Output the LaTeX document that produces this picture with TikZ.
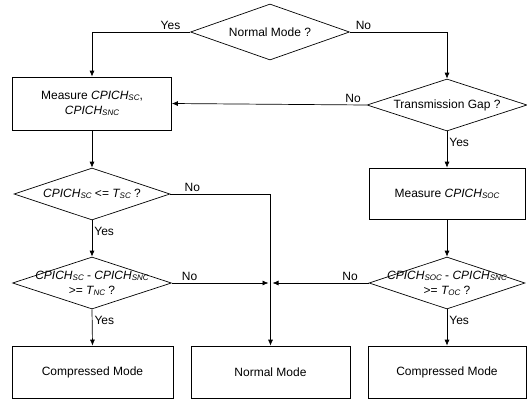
\documentclass[tikz,border=0pt]{standalone}
\usepackage{fontspec}
\setmainfont{Liberation Sans}
\usetikzlibrary{shapes.geometric,arrows.meta}
\newcommand{\lowsub}[1]{\raisebox{-0.8pt}{\fontsize{8}{9}\selectfont #1}}
\newcommand{\cpich}[1]{\textit{CPICH\lowsub{#1}}}

\begin{document}
\begin{tikzpicture}[x=1pt, y=-1pt]
        \tikzstyle{every node} = [font=\fontsize{12}{15}\selectfont]
        \tikzstyle{stepbox} = [draw, line width=0.7pt, rectangle, minimum height=52pt, align=center, inner sep=0pt]
        \tikzstyle{decision} = [draw, line width=0.7pt, diamond, aspect=3, inner sep=0pt, inner xsep=-35pt, align=center]
        \tikzstyle{flow} = [line width=0.7pt, -{Latex[length=6pt, width=5pt]}]
        \tikzstyle{lab} = [inner sep=2pt]

        \useasboundingbox (0,0) rectangle (527,399);

        \node[decision, minimum width=159pt, minimum height=56pt] (normal) at (270,32) {Normal Mode ?};
        \node[stepbox, minimum width=159pt, minimum height=53pt] (meas1) at (92,103.5) {Measure \cpich{SC},\\\cpich{SNC}};
        \node[decision, minimum width=160pt, minimum height=52pt] (gap) at (447,105) {Transmission Gap ?};
        \node[stepbox, minimum width=156pt, minimum height=51pt] (meas2) at (447,193.5) {Measure \cpich{SOC}};
        \node[decision, minimum width=156pt, minimum height=52pt] (sctest) at (92,194) {\cpich{SC} <= \textit{T\lowsub{SC}} ?};
        \node[decision, minimum width=159pt, minimum height=52pt] (nctest) at (92,283) {\cpich{SC} - \cpich{SNC}\\>= \textit{T\lowsub{NC}} ?};
        \node[decision, minimum width=156pt, minimum height=52pt] (octest) at (447,283) {\cpich{SOC} - \cpich{SNC}\\>= \textit{T\lowsub{OC}} ?};
        \node[stepbox, minimum width=161pt] (comp1) at (92.5,372) {Compressed Mode};
        \node[stepbox, minimum width=159pt] (normal2) at (270.5,372) {Normal Mode};
        \node[stepbox, minimum width=158pt] (comp2) at (447,372) {Compressed Mode};
        \coordinate (join) at (normal2.north |- nctest.east);

        \draw[flow] (normal.west) -| node[lab, above, pos=.1]{Yes} (meas1.north);
        \draw[flow] (normal.east) -| node[lab, above, pos=.07]{No} (gap.north);
        \draw[flow] (gap.west) -- node[lab, above, pos=.07]{No} (meas1.east);
        \draw[flow] (gap.south) -- node[lab, right, pos=.3]{Yes} (meas2.north);
        \draw[flow] (meas1.south) -- (sctest.north);
        \draw[flow] (meas2.south) -- (octest.north);
        \draw[flow] (sctest.east) -| node[lab, above, pos=.11]{No} (normal2.north);
        \draw[flow] (sctest.south) -- node[lab, right, pos=.3]{Yes} (nctest.north);
        \draw[flow, shorten >=2pt] (nctest.east) -- node[lab, above, pos=.18]{No} (join);
        \draw[flow, shorten >=2pt] (octest.west) -- node[lab, above, pos=.19]{No} (join);
        \draw[flow] (nctest.south) -- node[lab, right, pos=.3]{Yes} (comp1.north);
        \draw[flow] (octest.south) -- node[lab, right, pos=.3]{Yes} (comp2.north);
\end{tikzpicture}
\end{document}
